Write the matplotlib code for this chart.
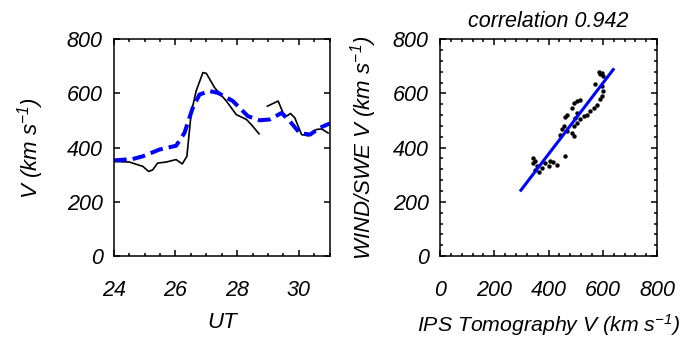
import matplotlib
matplotlib.use("Agg")
import matplotlib.pyplot as plt
from matplotlib.ticker import MultipleLocator

plt.rcParams["font.family"] = ["Liberation Sans", "DejaVu Sans"]
plt.rcParams["font.style"] = "italic"
plt.rcParams["mathtext.fontset"] = "custom"
plt.rcParams["mathtext.rm"] = "Liberation Sans:italic"
plt.rcParams["mathtext.it"] = "Liberation Sans:italic"

# WIND/SWE observed speed (two segments, data gap in between)
obs_t1 = [24.0, 24.5, 24.94, 25.13, 25.26, 25.42, 25.7, 26.02, 26.22, 26.37,
          26.51, 26.67, 26.89, 27.0, 27.27, 27.65, 27.97, 28.3, 28.46, 28.71]
obs_v1 = [349, 347, 331, 312, 318, 343, 347, 356, 340, 368,
          528, 609, 677, 674, 621, 572, 522, 504, 485, 451]
obs_t2 = [28.98, 29.33, 29.49, 29.6, 29.73, 29.87, 30.09, 30.3, 30.57, 30.74, 30.95]
obs_v2 = [553, 572, 528, 516, 526, 510, 448, 444, 467, 469, 454]

# IPS tomography model speed
ips_t = [24.0, 24.61, 24.94, 25.48, 26.02, 26.29, 26.56, 26.78, 27.1, 27.38,
         27.86, 28.35, 28.73, 29.06, 29.44, 29.71, 30.03, 30.36, 30.68, 31.0]
ips_v = [353, 358, 368, 393, 407, 454, 547, 596, 609, 602,
         572, 516, 501, 504, 528, 497, 454, 448, 473, 489]

# scatter: IPS tomography V vs WIND/SWE V
sc_x = [584, 597, 590, 600, 572, 597, 600, 597, 590, 578, 566, 553, 541, 529, 517,
        504, 517, 494, 486, 467, 461, 504, 498, 504, 492, 455, 449, 443, 467, 486,
        492, 461, 342, 351, 344, 357, 351, 363, 375, 387, 406, 418, 430, 400]
sc_y = [679, 677, 670, 664, 633, 627, 609, 590, 578, 559, 547, 534, 522, 516, 504,
        571, 575, 563, 547, 522, 514, 528, 510, 491, 479, 479, 467, 448, 460, 454,
        444, 368, 362, 349, 343, 331, 319, 312, 325, 343, 349, 346, 337, 331]

fit_x = [298, 638]
fit_y = [243, 688]
correlation = 0.942

fig = plt.figure(figsize=(6.94, 3.41), dpi=100)
ax1 = fig.add_axes([0.164, 0.249, 0.311, 0.636])
ax2 = fig.add_axes([0.634, 0.249, 0.313, 0.636])

ax1.plot(obs_t1, obs_v1, color="black", lw=1.2)
ax1.plot(obs_t2, obs_v2, color="black", lw=1.2)
ax1.plot(ips_t, ips_v, color="#0000ff", lw=2.9, dashes=(3.2, 1.5))
ax1.set_xlim(24, 31)
ax1.set_ylim(0, 800)
ax1.xaxis.set_major_locator(MultipleLocator(2))
ax1.xaxis.set_minor_locator(MultipleLocator(0.5))
ax1.yaxis.set_major_locator(MultipleLocator(200))
ax1.set_xlabel("UT", fontsize=16, labelpad=8)
ax1.set_ylabel(r"V (km s$^{-1}$)", fontsize=16, labelpad=15)

ax2.scatter(sc_x, sc_y, s=10, color="black", linewidths=0)
ax2.plot(fit_x, fit_y, color="#0000ff", lw=2.2)
ax2.set_xlim(0, 800)
ax2.set_ylim(0, 800)
ax2.xaxis.set_major_locator(MultipleLocator(200))
ax2.xaxis.set_minor_locator(MultipleLocator(40))
ax2.yaxis.set_major_locator(MultipleLocator(200))
ax2.yaxis.set_minor_locator(MultipleLocator(40))
ax2.set_xlabel(r"IPS Tomography V (km s$^{-1}$)", fontsize=15.3, labelpad=8)
ax2.set_ylabel(r"WIND/SWE V (km s$^{-1}$)", fontsize=16, labelpad=10)
ax2.set_title("correlation %.3f" % correlation, fontsize=15.5, pad=9)

for ax in (ax1, ax2):
    for s in ax.spines.values():
        s.set_linewidth(1.1)
    ax.tick_params(which="both", direction="in", top=True, right=True,
                   width=1.1, labelsize=15.5)
    ax.tick_params(which="major", length=4.5)
    ax.tick_params(which="minor", length=2.3)
    ax.tick_params(axis="x", pad=17)
    ax.tick_params(axis="y", pad=8)

plt.savefig("out.png", dpi=100)
